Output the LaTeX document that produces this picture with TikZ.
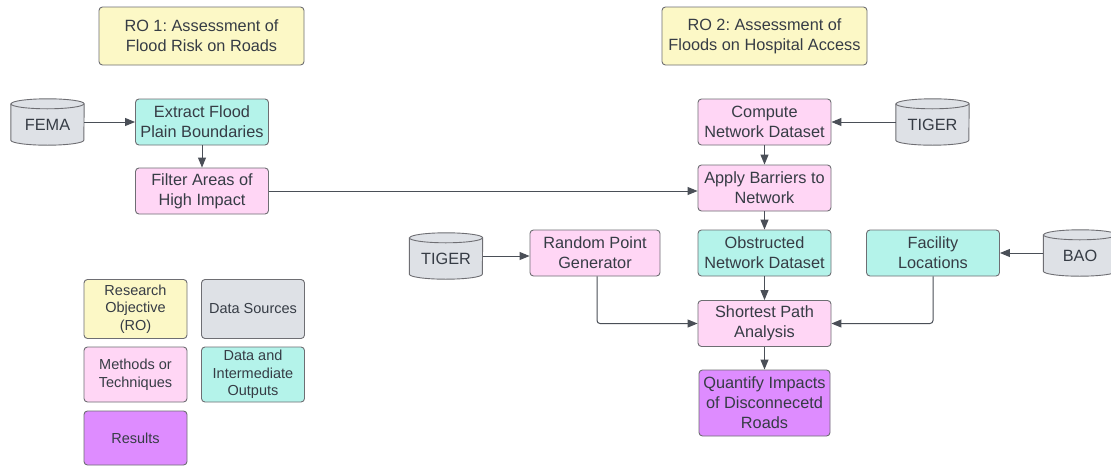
\documentclass[tikz,border=0pt]{standalone}
\usepackage{fontspec}
\setmainfont{Liberation Sans}
\frenchspacing
\usetikzlibrary{arrows.meta}
\definecolor{roY}{HTML}{FCF8C6}
\definecolor{mtP}{HTML}{FFD6F5}
\definecolor{dtT}{HTML}{B4F3EA}
\definecolor{srcG}{HTML}{DEE1E6}
\definecolor{resP}{HTML}{DE8CFF}
\definecolor{edgeC}{HTML}{6E6E73}
\definecolor{txtC}{HTML}{363C45}
\definecolor{lineC}{HTML}{4A4F57}
\tikzset{
  x=1pt, y=1pt,
  box/.style={draw=edgeC, line width=0.9pt, rounded corners=3.5pt, align=center,
    text=txtC, inner sep=2pt, font=\fontsize{16.3}{20}\selectfont},
  robox/.style={box, fill=roY, minimum width=205pt, minimum height=58pt},
  mbox/.style={box, fill=mtP, minimum width=133pt, minimum height=46pt},
  dbox/.style={box, fill=dtT, minimum width=133pt, minimum height=46pt},
  rbox/.style={box, fill=resP, minimum width=131pt, minimum height=66pt},
  lgbox/.style={box, minimum width=103pt, minimum height=59pt, font=\fontsize{14.5}{17.5}\selectfont},
  dbnode/.style={minimum width=73pt, minimum height=46pt, inner sep=0pt, text=txtC,
    font=\fontsize{16.3}{20}\selectfont},
  dbshape/.style={draw=edgeC, fill=srcG, line width=0.9pt},
  link/.style={draw=lineC, line width=1pt, rounded corners=3pt,
    -{Triangle[length=10pt,width=8pt]}},
}
% database drum drawn around a named node
\newcommand\drumAround[1]{%
  \path[dbshape] ([yshift=-5pt]#1.north west) -- ([yshift=5pt]#1.south west)
    arc[start angle=180, end angle=360, x radius=36.5pt, y radius=5pt]
    -- ([yshift=-5pt]#1.north east)
    arc[start angle=0, end angle=180, x radius=36.5pt, y radius=5pt] -- cycle;
  \draw[edgeC, line width=0.9pt] ([yshift=-5pt]#1.north west)
    arc[start angle=180, end angle=360, x radius=36.5pt, y radius=5pt];
  \node[dbnode] at ([yshift=-3pt]#1.center) {\csname drumlabel#1\endcsname};
}
\begin{document}
\begin{tikzpicture}
\clip (0,0) rectangle (1111,-466);
\fill[white] (0,0) rectangle (1111,-466);

% research objectives
\node[robox] (ro1) at (201.5,-36) {RO 1: Assessment of\\Flood Risk on Roads};
\node[robox] (ro2) at (764.5,-36) {RO 2: Assessment of\\Floods on Hospital Access};

% data sources (drums)
\expandafter\def\csname drumlabelfema\endcsname{FEMA}
\expandafter\def\csname drumlabeltigerA\endcsname{TIGER}
\expandafter\def\csname drumlabeltigerB\endcsname{TIGER}
\expandafter\def\csname drumlabelbao\endcsname{BAO}
\node[dbnode] (fema) at (47.5,-122) {};
\node[dbnode] (tigerA) at (932.5,-122) {};
\node[dbnode] (tigerB) at (446,-256) {};
\node[dbnode] (bao) at (1080,-253) {};
\foreach \n in {fema,tigerA,tigerB,bao} {\drumAround{\n}}

% RO 1 chain
\node[dbox] (extract) at (202,-122) {Extract Flood\\Plain Boundaries};
\node[mbox] (filter) at (202,-191) {Filter Areas of\\High Impact};

% RO 2 chain
\node[mbox] (compute) at (764.5,-122) {Compute\\Network Dataset};
\node[mbox] (barrier) at (764.5,-188) {Apply Barriers to\\Network};
\node[mbox, minimum width=130pt] (random) at (595,-253) {Random Point\\Generator};
\node[dbox] (obstr) at (764.5,-253) {Obstructed\\Network Dataset};
\node[dbox] (facil) at (933,-253) {Facility\\Locations};
\node[mbox] (spath) at (764.5,-323.5) {Shortest Path\\Analysis};
\node[rbox] (quant) at (764.5,-403) {Quantify Impacts\\of Disconnecetd\\Roads};

% legend
\node[lgbox, fill=roY] (lgro) at (135.5,-309) {Research\\Objective\\(RO)};
\node[lgbox, fill=srcG] (lgsrc) at (253,-309) {Data Sources};
\node[lgbox, fill=mtP, minimum height=55pt] (lgmt) at (135.5,-374.5) {Methods or\\Techniques};
\node[lgbox, fill=dtT, minimum height=55pt] (lgdt) at (253,-374.5) {Data and\\Intermediate\\Outputs};
\node[lgbox, fill=resP, minimum height=54pt] (lgres) at (135.5,-438) {Results};

% connectors
\draw[link] (fema.east) -- (extract.west);
\draw[link] (extract.south) -- (filter.north);
\draw[link] (filter.east) -- (filter.east -| barrier.west);
\draw[link] (tigerA.west) -- (compute.east);
\draw[link] (compute.south) -- (barrier.north);
\draw[link] (barrier.south) -- (obstr.north);
\draw[link] (tigerB.east) -- (tigerB.east -| random.west);
\draw[link] (obstr.south) -- (spath.north);
\draw[link] ([xshift=2pt]random.south) |- (spath.west);
\draw[link] (bao.west) -- (facil.east);
\draw[link] (facil.south) |- (spath.east);
\draw[link] (spath.south) -- (quant.north);
\end{tikzpicture}
\end{document}
